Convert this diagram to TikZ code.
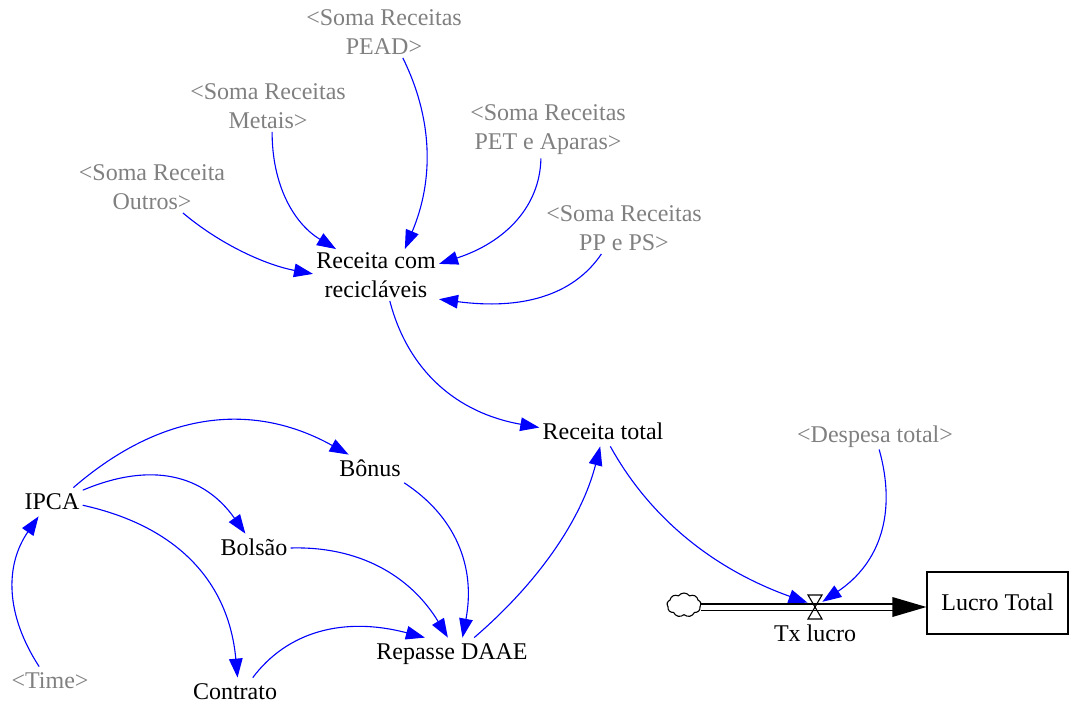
\documentclass[tikz,border=0pt]{standalone}
\usepackage{fontspec}
\setmainfont{Liberation Serif}
\usetikzlibrary{arrows.meta,shapes.symbols}
\definecolor{linkblue}{RGB}{0,0,255}
\definecolor{shadowtxt}{RGB}{128,128,128}

\begin{document}
\begin{tikzpicture}[x=0.5pt,y=-0.5pt,
  txt/.style={font=\fontsize{12pt}{14.5pt}\selectfont, align=center, inner sep=1.5pt},
  var/.style={txt, text height=9pt, text depth=2pt},
  shadowvar/.style={var, text=shadowtxt},
  shadowvartwo/.style={txt, text=shadowtxt},
  link/.style={draw=linkblue, line width=0.55pt,
    -{Triangle[length=9.5pt,width=6.8pt]}},
  stockbox/.style={var, draw, line width=0.6pt, minimum width=70.5pt,
    minimum height=31pt},
  pipe/.style={draw=black, line width=0.55pt, double=white,
    double distance=2.5pt}]
\useasboundingbox (0,0) rectangle (1070,706);

% variables
\node[shadowvartwo] (pead)   at (384,32)  {<Soma Receitas\\PEAD>};
\node[shadowvartwo] (metais) at (268,106) {<Soma Receitas\\Metais>};
\node[shadowvartwo] (pet)    at (548,130) {<Soma Receitas\\PET e Aparas>};
\node[shadowvartwo] (outros) at (152,187) {<Soma Receita\\Outros>};
\node[shadowvartwo] (ppps)   at (624,228) {<Soma Receitas\\PP e PS>};
\node[txt] (rc)      at (376,275) {Receita com\\recicláveis};
\node[var] (rt)      at (603,432) {Receita total};
\node[shadowvar] (desp) at (875,435) {<Despesa total>};
\node[var] (bonus)   at (370,469) {Bônus};
\node[var] (ipca)    at (52,502)  {IPCA};
\node[var] (bolsao)  at (254,548) {Bolsão};
\node[var] (repasse) at (452,652) {Repasse DAAE};
\node[shadowvar] (time) at (50,681) {<Time>};
\node[var] (contrato) at (235,692) {Contrato};
\node[var] (txl)     at (815,634) {Tx lucro};

% stock and flow
\node[stockbox] (lucro) at (997.5,603) {Lucro Total};
\node[inner sep=0pt, minimum width=7pt, minimum height=12pt] (valve) at (815,607) {};
\node[cloud, draw, line width=0.55pt, cloud puffs=9, cloud puff arc=110,
  aspect=1.4, inner sep=0pt, minimum width=17pt, minimum height=12pt] (cloud) at (684,605) {};
\coordinate (inlet) at (valve -| lucro.west);
\draw[pipe, shorten >=16pt] (cloud.east |- valve) -- (inlet);
\fill[black] (inlet) -- ++(-34,-10) -- ++(0,20) -- cycle;
\draw[line width=0.55pt] (valve) ++(-7,-12) -- ++(14,0) -- ++(-14,24) -- ++(14,0) -- cycle;

% links
\draw[link] (pead.-54) .. controls (433,119) and (434,180) .. (rc.42);
\draw[link] (metais.-81) .. controls (272,184) and (293,223) .. (rc.147);
\draw[link] (pet.-104) .. controls (540,206) and (506,242) .. (rc.10);
\draw[link] (outros.-40) .. controls (221,245) and (266,265) .. (rc.179);
\draw[link] (ppps.-131) .. controls (573,296) and (521,310) .. (rc.-21);
\draw[link] (rc.-62) .. controls (408,371) and (457,413) .. (rt.176);
\draw[link] (rt.-63) .. controls (651,520) and (716,570) .. (valve.150);
\draw[link] (desp.-74) .. controls (897,513) and (880,563) .. (valve.35);
\draw[link] (ipca.34) .. controls (163,410) and (254,402) .. (bonus.146);
\draw[link] (ipca.21) .. controls (152,461) and (204,475) .. (bolsao.121);
\draw[link] (ipca.-6) .. controls (181,527) and (229,585) .. (contrato.80);
\draw[link] (time.127) .. controls (5,614) and (5,565) .. (ipca.-133);
\draw[link] (bonus.-22) .. controls (455,516) and (476,566) .. (repasse.54);
\draw[link] (bolsao.0) .. controls (358,546) and (410,575) .. (repasse.106);
\draw[link] (contrato.39) .. controls (287,632) and (343,616) .. (repasse.152);
\draw[link] (repasse.33) .. controls (540,581) and (582,518) .. (rt.-101);
\end{tikzpicture}
\end{document}
